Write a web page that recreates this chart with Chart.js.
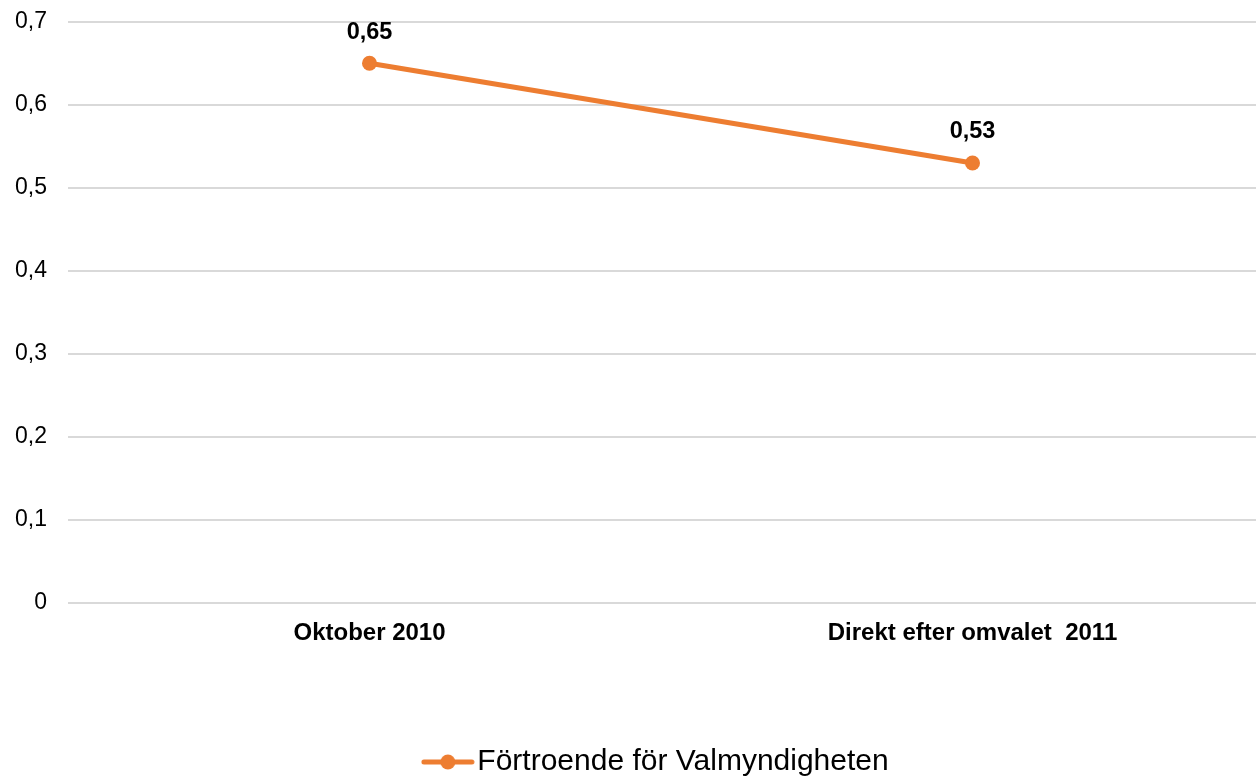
<!DOCTYPE html>
<html>
<head>
<meta charset="utf-8">
<script src="https://cdn.jsdelivr.net/npm/chart.js@4"></script>
<style>
    html, body { margin: 0; padding: 0; background: #ffffff; }
    #wrap { width: 1256px; height: 780px; overflow: hidden; position: relative; }
    /* the y tick padding pushes the plot top down, so lift the canvas a bit */
    #trustChart { display: block; position: absolute; left: 0; top: -13px; }
</style>
</head>
<body>
<div id="wrap">
    <canvas id="trustChart" width="1274" height="800"></canvas>
</div>
<script>
// ===== Data =====
const categories = ['Oktober 2010', 'Direkt efter omvalet  2011'];
const trustValues = [0.65, 0.53];
const valueLabels = ['0,65', '0,53'];
const yTickLabels = ['0', '0,1', '0,2', '0,3', '0,4', '0,5', '0,6', '0,7'];
const seriesName = 'Förtroende för Valmyndigheten';

const ORANGE = '#ED7D31';
const FONT = '"Liberation Sans", Arial, sans-serif';

// legend marker: line with a dot in the middle
// (drawn a bit left of the image centre so it sits next to the text)
function makeLegendMarker() {
    const c = document.createElement('canvas');
    c.width = 74;
    c.height = 18;
    const g = c.getContext('2d');
    g.strokeStyle = ORANGE;
    g.lineWidth = 5;
    g.lineCap = 'round';
    g.beginPath();
    g.moveTo(3, 9);
    g.lineTo(51, 9);
    g.stroke();
    g.fillStyle = ORANGE;
    g.beginPath();
    g.arc(27, 9, 7.5, 0, Math.PI * 2);
    g.fill();
    return c;
}

// values above the points
const valueLabelPlugin = {
    id: 'valueLabels',
    afterDatasetsDraw(chart) {
        const ctx = chart.ctx;
        const meta = chart.getDatasetMeta(0);
        ctx.save();
        ctx.font = 'bold 23.5px ' + FONT;
        ctx.fillStyle = '#000000';
        ctx.textAlign = 'center';
        ctx.textBaseline = 'middle';
        meta.data.forEach((pt, i) => {
            ctx.fillText(valueLabels[i], pt.x, pt.y - 31);
        });
        ctx.restore();
    }
};

const marker = makeLegendMarker();

new Chart(document.getElementById('trustChart'), {
    type: 'line',
    data: {
        labels: categories,
        datasets: [{
            label: seriesName,
            data: trustValues,
            borderColor: ORANGE,
            backgroundColor: ORANGE,
            borderWidth: 5,
            pointRadius: 7.5,
            pointBorderWidth: 0,
            pointBackgroundColor: ORANGE,
            tension: 0,
            clip: false
        }]
    },
    options: {
        responsive: false,
        animation: false,
        devicePixelRatio: 1,
        layout: { autoPadding: false, padding: { top: 10, left: 15, right: 0, bottom: 0 } },
        plugins: {
            legend: {
                position: 'bottom',
                fullSize: false,
                labels: {
                    usePointStyle: true,
                    pointStyleWidth: 9,
                    padding: 0,
                    color: '#000000',
                    font: { family: FONT, size: 30 },
                    generateLabels: () => [{
                        text: seriesName,
                        pointStyle: marker,
                        fillStyle: ORANGE,
                        strokeStyle: ORANGE,
                        lineWidth: 0,
                        datasetIndex: 0,
                        fontColor: '#000000'
                    }]
                }
            },
            tooltip: { enabled: false }
        },
        scales: {
            x: {
                offset: true,
                grid: { display: false },
                border: { display: false },
                ticks: {
                    color: '#000000',
                    padding: 8,
                    maxRotation: 0,
                    autoSkip: false,
                    font: { family: FONT, size: 24, weight: 'bold' }
                },
                afterFit(scale) { scale.height = 144; }
            },
            y: {
                min: 0,
                max: 0.7,
                grid: { color: '#d9d9d9', lineWidth: 2, drawTicks: false },
                border: { display: false },
                ticks: {
                    stepSize: 0.1,
                    padding: 21,
                    autoSkip: false,
                    color: '#000000',
                    font: { family: FONT, size: 23 },
                    callback: (value, index) => yTickLabels[index]
                },
                afterFit(scale) { scale.width = 53; }
            }
        }
    },
    plugins: [valueLabelPlugin]
});
</script>
</body>
</html>
